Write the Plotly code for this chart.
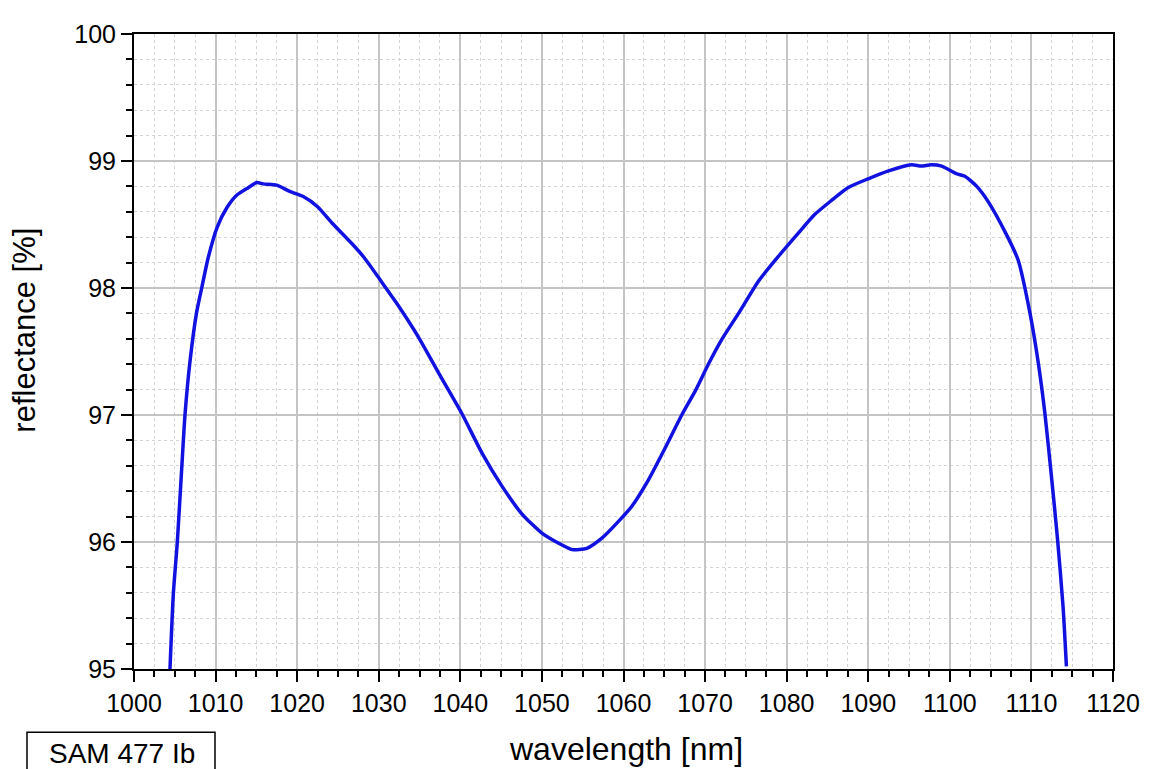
import plotly.graph_objects as go

wavelength_nm = [
    1004.41, 1004.82, 1005.31, 1005.84, 1006.25, 1006.86, 1007.68, 1008.30, 1009.1, 1010.2,
    1011.36, 1012.58, 1014.0, 1015.03, 1015.85, 1017.5, 1019.1, 1020.75, 1022.5, 1024.3,
    1026.7, 1028.2, 1030.0, 1031.2, 1032.2, 1034.9, 1037.35, 1040.2, 1042.66, 1045.1,
    1047.56, 1050.0, 1052.06, 1053.7, 1055.5, 1057.35, 1059.5, 1061.0, 1063.06, 1065.1,
    1067.14, 1068.8, 1070.4, 1072.0, 1074.1, 1076.5, 1079.0, 1081.4, 1083.46, 1085.5,
    1087.5, 1090.0, 1092.4, 1095.3, 1096.5, 1097.7, 1099.0, 1100.8, 1101.84, 1103.3,
    1104.7, 1106.94, 1108.37, 1109.8, 1110.82, 1111.64, 1112.45, 1113.19, 1113.88, 1114.29,
]
reflectance_pct = [
    95.0, 95.59, 96.0, 96.57, 97.0, 97.42, 97.81, 98.0, 98.24, 98.48,
    98.63, 98.73, 98.79, 98.83, 98.82, 98.81, 98.76, 98.72, 98.64, 98.51,
    98.35, 98.24, 98.08, 97.97, 97.88, 97.61, 97.33, 97.01, 96.70, 96.44,
    96.22, 96.07, 95.99, 95.94, 95.95, 96.03, 96.17, 96.28, 96.49, 96.74,
    97.0, 97.19, 97.40, 97.59, 97.80, 98.05, 98.25, 98.43, 98.58, 98.69,
    98.79, 98.86, 98.92, 98.97, 98.96, 98.97, 98.96, 98.90, 98.88, 98.80,
    98.68, 98.42, 98.22, 97.81, 97.42, 97.02, 96.52, 96.03, 95.49, 95.02,
]

x_tick_vals = list(range(1000, 1121, 10))
y_tick_vals = [95, 96, 97, 98, 99, 100]

sample_label = "SAM 477 Ib"
x_title = "wavelength [nm]"
y_title = "reflectance [%]"

# page body margin offset (browser default)
OFF = 8
W, H = 1149, 769
# target plot area in screen pixels
SL, SR, ST, SB = 134, 1113, 23, 669.5
ML = SL - OFF
MT = ST - OFF
PW = SR - SL
PH = SB - ST
MR = W - ML - PW
MB = H - MT - PH


def px(x):
    return (x - SL) / PW


def py(y):
    return (SB - y) / PH


FONT = "Liberation Sans, Arial, sans-serif"

fig = go.Figure()
fig.add_trace(go.Scatter(
    x=wavelength_nm, y=reflectance_pct, mode="lines",
    line=dict(color="#1212e0", width=3.5, shape="spline", smoothing=0.6),
    showlegend=False,
))

axis_common = dict(
    showline=True, linecolor="black", linewidth=2, mirror=True,
    ticks="outside", ticklen=11, tickwidth=2, tickcolor="black",
    showgrid=True, gridcolor="#c4c4c4", gridwidth=1.5,
    zeroline=False,
    tickfont=dict(family=FONT, size=25, color="black"),
)

fig.update_xaxes(
    range=[1000, 1120], tickvals=x_tick_vals,
    minor=dict(dtick=2.5, tick0=1000, ticks="outside", ticklen=6, tickwidth=1.5,
               tickcolor="black", showgrid=True, gridcolor="#d4d4d4",
               griddash="dot", gridwidth=1),
    **axis_common,
)
fig.update_yaxes(
    range=[95, 100], tickvals=y_tick_vals,
    minor=dict(dtick=0.2, tick0=95, ticks="outside", ticklen=6, tickwidth=1.5,
               tickcolor="black", showgrid=True, gridcolor="#d4d4d4",
               griddash="dot", gridwidth=1),
    **axis_common,
)

fig.add_annotation(
    x=px(626), y=py(751), xref="paper", yref="paper",
    text=x_title, showarrow=False, xanchor="center", yanchor="middle",
    font=dict(family=FONT, size=32, color="black"),
)
fig.add_annotation(
    x=px(25), y=py(325), xref="paper", yref="paper",
    text=y_title, showarrow=False, textangle=-90, xanchor="center", yanchor="middle",
    borderpad=0,
    font=dict(family=FONT, size=31, color="black"),
)
fig.add_shape(
    type="rect", xref="paper", yref="paper",
    x0=px(27), x1=px(215), y0=py(734), y1=py(800),
    line=dict(color="black", width=1.5), fillcolor="white",
)
fig.add_annotation(
    x=px(122), y=py(756), xref="paper", yref="paper",
    text=sample_label, showarrow=False, xanchor="center", yanchor="middle",
    font=dict(family=FONT, size=28, color="black"),
)

fig.update_layout(
    width=W, height=H,
    margin=dict(l=ML, r=MR, t=MT, b=MB),
    paper_bgcolor="white", plot_bgcolor="white",
    font=dict(family=FONT),
)

fig.write_html("out.html")
